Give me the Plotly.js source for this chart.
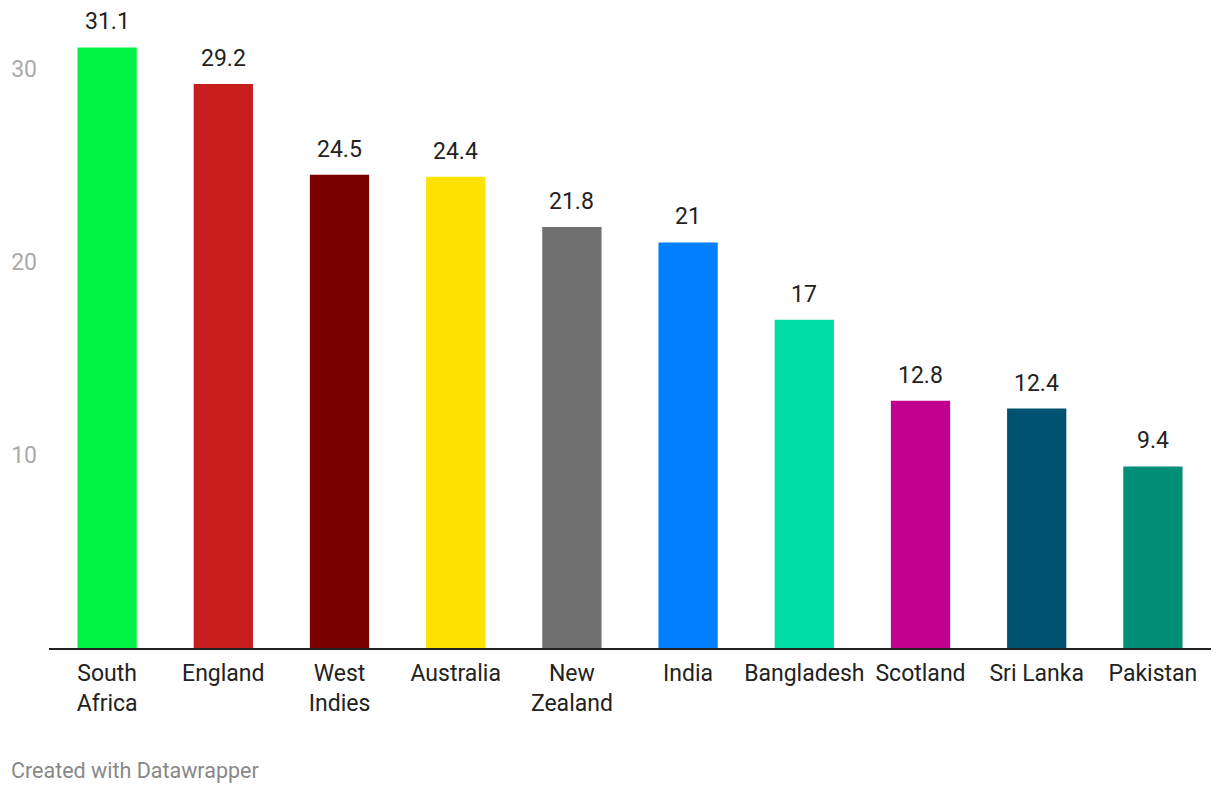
<!DOCTYPE html>
<html>
<head>
<meta charset="utf-8">
<script src="https://cdn.plot.ly/plotly-3.0.1.min.js"></script>
<style>
  html, body { margin: 0; padding: 0; background: #fff; }
  #chart { width: 1220px; height: 796px; }
</style>
</head>
<body>
<div id="chart"></div>
<script>
// team labels (line breaks as in the chart)
const teams = ["South<br>Africa", "England", "West<br>Indies", "Australia", "New<br>Zealand",
  "India", "Bangladesh", "Scotland", "Sri Lanka", "Pakistan"];
const values = [31.1, 29.2, 24.5, 24.4, 21.8, 21, 17, 12.8, 12.4, 9.4];
const barColors = ["#01f243", "#c71e1d", "#7a0000", "#ffe100", "#707070",
  "#0080ff", "#00dca5", "#c20090", "#005370", "#008f76"];
const yTicks = [10, 20, 30];

const FONT = "Roboto, 'Open Sans', sans-serif";

const trace = {
  type: "bar",
  x: teams,
  y: values,
  marker: { color: barColors, line: { width: 0 } },
  hoverinfo: "skip",
};

// value labels sit above each bar
const labels = teams.map((t, i) => ({
  x: t, y: values[i], xref: "x", yref: "y",
  text: String(values[i]), showarrow: false,
  yanchor: "bottom", yshift: 10,
  font: { family: FONT, size: 23, color: "#222" },
}));

labels.push({
  xref: "paper", yref: "paper", x: -0.034, y: -0.198,
  xanchor: "left", yanchor: "middle", showarrow: false,
  text: "Created with Datawrapper",
  font: { family: FONT, size: 21.5, color: "#888" },
});

const layout = {
  width: 1220, height: 796,
  margin: { l: 49, r: 9, t: 30, b: 148 },
  paper_bgcolor: "#fff", plot_bgcolor: "#fff",
  font: { family: FONT, color: "#222" },
  bargap: 0.49,
  showlegend: false,
  xaxis: {
    type: "category",
    showline: true, linecolor: "#222", linewidth: 2,
    ticks: "", showgrid: false, zeroline: false,
    tickfont: { family: FONT, size: 23, color: "#222" },
    ticklabelstandoff: 3,
    fixedrange: true,
  },
  yaxis: {
    range: [0, 32],
    tickvals: yTicks, ticktext: yTicks.map(String),
    showgrid: false, zeroline: false, showline: false, ticks: "",
    tickfont: { family: FONT, size: 23, color: "#aaa" },
    ticklabelstandoff: 11,
    fixedrange: true,
  },
  annotations: labels,
};

Plotly.newPlot("chart", [trace], layout, { displayModeBar: false, staticPlot: true });
</script>
</body>
</html>
